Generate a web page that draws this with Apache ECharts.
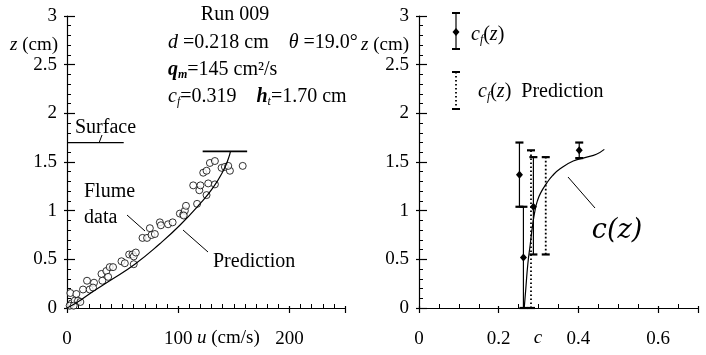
<!DOCTYPE html>
<html><head><meta charset="utf-8">
<script src="https://cdn.jsdelivr.net/npm/echarts@6/dist/echarts.min.js"></script>
<style>html,body{margin:0;padding:0;background:#fff}#c{width:706px;height:355px}</style>
</head><body><div id="c"></div>
<script>
// ---- Left panel: velocity profile ----
const flumeU = [3,8.4,4.2,6.9,9.9,12,2.4,6,14.4,18,20.4,24.3,23.4,31,31.8,35.4,37,38.4,41.4,49,52,55.9,58.9,60,61.9,60,67.9,72,74.5,76,79,83.5,84.4,90.9,95,101.5,104.5,106,107,105,113.5,117,119,120,125.5,127,133,122.5,125.5,128.5,133,139,142,146.5,145,158];
const flumeZ = [0.154,0.144,0.048,0.075,0.075,0.062,0.024,0.024,0.19,0.28,0.19,0.26,0.21,0.35,0.28,0.38,0.32,0.42,0.42,0.48,0.46,0.55,0.55,0.53,0.57,0.45,0.72,0.72,0.82,0.75,0.76,0.88,0.85,0.86,0.88,0.97,0.96,1.0,1.05,0.95,1.26,1.07,1.21,1.26,1.16,1.28,1.27,1.39,1.41,1.49,1.51,1.44,1.45,1.41,1.46,1.46];
const predU = [0,11.4,23.4,38.4,61,83.5,101.5,119.5,131.5,140.5,145,147];
const predZ = [0,0.075,0.17,0.28,0.45,0.66,0.85,1.07,1.24,1.41,1.53,1.61];
const surfaceU = [0,51];
const surfaceZ = [1.70,1.70];
const topBarU = [122,162];
const topBarZ = [1.61,1.61];
const uTicks = [0,100,200];
const zTicks = [0,0.5,1,1.5,2,2.5,3];

// ---- Right panel: concentration profile ----
const cfC    = [0.262,0.287,0.252,0.402];
const cfZ    = [0.52,1.04,1.37,1.62];
const cfLow  = [0,0.55,1.04,1.54];
const cfHigh = [1.04,1.55,1.70,1.70];
const cfPredC    = [0.281,0.318];
const cfPredZ    = [0.81,1.05];
const cfPredLow  = [0,0.55];
const cfPredHigh = [1.62,1.55];
const czC = [0.264,0.268,0.273,0.279,0.285,0.291,0.297,0.305,0.32,0.335,0.354,0.387,0.421,0.445,0.465];
const czZ = [0,0.2,0.45,0.65,0.85,1.0,1.1,1.18,1.28,1.36,1.43,1.51,1.55,1.58,1.63];
const cTicks = [0,0.2,0.4,0.6];

const FONT = 'Liberation Serif';
const FS = 19;   // tick labels
const AS = 20;   // annotations
const zip = (a,b)=>a.map((v,i)=>[v,b[i]]);

const chart = echarts.init(document.getElementById('c'), null, {renderer:'canvas'});

function mainAxis(extra){
  return Object.assign({
    type:'value', splitLine:{show:false},
    axisLine:{show:true, onZero:false, lineStyle:{color:'#000', width:1.2}},
    axisLabel:{color:'#000', fontFamily:FONT, fontSize:FS},
    minorTick:{show:true, length:4, lineStyle:{color:'#000', width:1}},
    minorSplitLine:{show:false}
  }, extra);
}
function ghostAxis(extra){
  return Object.assign({
    type:'value', splitLine:{show:false},
    axisLine:{show:false, onZero:false}, axisLabel:{show:false},
    minorTick:{show:false}
  }, extra);
}
const tickSt = {color:'#000', width:1.2};

function errRender(dashed, marker){
  return function(params, api){
    const c=api.value(0), z=api.value(1), lo=api.value(2), hi=api.value(3);
    const pLo=api.coord([c,lo]), pHi=api.coord([c,hi]), pM=api.coord([c,z]);
    const st={stroke:'#000', lineWidth: dashed?1.8:1.2, lineDash: dashed?[1.6,2.4]:null};
    const cap={stroke:'#000', lineWidth:2.2};
    const ch=[
      {type:'line', shape:{x1:pLo[0],y1:pLo[1],x2:pHi[0],y2:pHi[1]}, style:st},
      {type:'line', shape:{x1:pLo[0]-4,y1:pLo[1],x2:pLo[0]+4,y2:pLo[1]}, style:cap},
      {type:'line', shape:{x1:pHi[0]-4,y1:pHi[1],x2:pHi[0]+4,y2:pHi[1]}, style:cap}
    ];
    if(marker){
      const x=pM[0], y=pM[1];
      ch.push({type:'polygon', shape:{points:[[x,y-4],[x+3.5,y],[x,y+4],[x-3.5,y]]}, style:{fill:'#000'}});
    }
    return {type:'group', children:ch};
  };
}

// text runs with real subscripts: items [text, flags] flags: i=italic b=bold s=subscript
const mctx = document.createElement('canvas').getContext('2d');
function fontOf(f, size){ return (f.includes('i')?'italic ':'')+(f.includes('b')?'bold ':'')+size+'px "'+FONT+'"'; }
function runs(x, y, items, align, size){
  size = size || AS;
  const parts = items.map(it=>{
    const t = typeof it==='string'?it:it[0];
    const f = typeof it==='string'?'':(it[1]||'');
    const s = f.includes('s') ? Math.round(size*0.62) : size;
    mctx.font = fontOf(f, s);
    return {t, f, s, w: mctx.measureText(t).width};
  });
  const total = parts.reduce((a,p)=>a+p.w,0);
  let cx = align==='right' ? x-total : align==='center' ? x-total/2 : x;
  const out=[];
  parts.forEach(p=>{
    out.push({type:'text', x:cx, y: p.f.includes('s') ? y+5 : y,
      style:{text:p.t, fontFamily:FONT, fontSize:p.s, fontStyle:p.f.includes('i')?'italic':'normal',
        fontWeight:p.f.includes('b')?'bold':'normal', fill:'#000', align:'left', verticalAlign:'middle'}});
    cx += p.w;
  });
  return out;
}
function seg(x1,y1,x2,y2,w,dash){
  return {type:'line', shape:{x1,y1,x2,y2}, style:{stroke:'#000', lineWidth:w||1, lineDash:dash||null}};
}

const option = {
  animation:false,
  backgroundColor:'#fff',
  grid:[
    {left:67, top:16, width:278, height:292},
    {left:419, top:16, width:279, height:292}
  ],
  xAxis:[
    mainAxis({gridIndex:0, min:0, max:250, interval:100, position:'bottom',
      axisTick:{show:true, inside:true, length:2, lineStyle:tickSt},
      minorTick:{show:true, splitNumber:10, length:4, lineStyle:{color:'#000', width:1}},
      axisLabel:{color:'#000', fontFamily:FONT, fontSize:FS, margin:22, showMaxLabel:false,
        formatter:v=>uTicks.includes(v)?String(v):''}}),
    ghostAxis({gridIndex:0, min:0, max:250, interval:100, position:'bottom',
      axisTick:{show:true, inside:false, length:5, lineStyle:tickSt}}),
    mainAxis({gridIndex:1, min:0, max:0.7, interval:0.2, position:'bottom',
      axisTick:{show:true, inside:true, length:2, lineStyle:tickSt},
      minorTick:{show:true, splitNumber:4, length:4, lineStyle:{color:'#000', width:1}},
      axisLabel:{color:'#000', fontFamily:FONT, fontSize:FS, margin:22, showMaxLabel:false,
        formatter:v=>{const t=cTicks.find(k=>Math.abs(k-v)<1e-6); return t===undefined?'':String(t);}}}),
    ghostAxis({gridIndex:1, min:0, max:0.7, interval:0.2, position:'bottom',
      axisTick:{show:true, inside:false, length:5, lineStyle:tickSt}})
  ],
  yAxis:[
    mainAxis({gridIndex:0, min:0, max:3, interval:0.5, position:'left',
      axisTick:{show:true, inside:true, length:8, lineStyle:tickSt},
      minorTick:{show:true, splitNumber:5, length:4, lineStyle:{color:'#000', width:1}},
      axisLabel:{color:'#000', fontFamily:FONT, fontSize:FS, margin:10}}),
    ghostAxis({gridIndex:0, min:0, max:3, interval:0.5, position:'left',
      axisTick:{show:true, inside:false, length:3, lineStyle:tickSt}}),
    mainAxis({gridIndex:1, min:0, max:3, interval:0.5, position:'left',
      axisTick:{show:true, inside:true, length:8, lineStyle:tickSt},
      minorTick:{show:true, splitNumber:5, length:4, lineStyle:{color:'#000', width:1}},
      axisLabel:{color:'#000', fontFamily:FONT, fontSize:FS, margin:10}}),
    ghostAxis({gridIndex:1, min:0, max:3, interval:0.5, position:'left',
      axisTick:{show:true, inside:false, length:3, lineStyle:tickSt}})
  ],
  series:[
    {type:'scatter', xAxisIndex:0, yAxisIndex:0, data:zip(flumeU,flumeZ), symbol:'circle', symbolSize:7,
      itemStyle:{color:'#fff', borderColor:'#000', borderWidth:1}},
    {type:'line', xAxisIndex:0, yAxisIndex:0, data:zip(predU,predZ), smooth:true, showSymbol:false,
      lineStyle:{color:'#000', width:1.2}},
    {type:'line', xAxisIndex:0, yAxisIndex:0, data:zip(surfaceU,surfaceZ), showSymbol:false,
      lineStyle:{color:'#000', width:1.2}},
    {type:'line', xAxisIndex:0, yAxisIndex:0, data:zip(topBarU,topBarZ), showSymbol:false,
      lineStyle:{color:'#000', width:1.8}},
    {type:'line', xAxisIndex:2, yAxisIndex:2, data:zip(czC,czZ), smooth:true, showSymbol:false,
      lineStyle:{color:'#000', width:1.2}},
    {type:'custom', xAxisIndex:2, yAxisIndex:2, renderItem:errRender(true,false),
      data:cfPredC.map((c,i)=>[c,cfPredZ[i],cfPredLow[i],cfPredHigh[i]]), z:3},
    {type:'custom', xAxisIndex:2, yAxisIndex:2, renderItem:errRender(false,true),
      data:cfC.map((c,i)=>[c,cfZ[i],cfLow[i],cfHigh[i]]), z:4}
  ],
  graphic:[].concat(
    runs(235,15,['Run 009'],'center'),
    runs(168,43,[['d','i'],' =0.218 cm    ',['θ','i'],' =19.0°']),
    runs(168,70,[['q','bi'],['m','bis'],'=145 cm²/s']),
    runs(168,97,[['c','i'],['f','is'],'=0.319    ',['h','bi'],['t','is'],'=1.70 cm']),
    runs(58,45,[['z','i'],' (cm)'],'right',FS),
    runs(75,128,['Surface']),
    runs(84,192,['Flume']),
    runs(84,218,['data']),
    runs(213,262,['Prediction']),
    runs(197,338,[['u','i'],' (cm/s)'],'left',FS),
    runs(409,45,[['z','i'],' (cm)'],'right',FS),
    runs(538,338,[['c','i']],'center',FS),
    runs(471,35,[['c','i'],['f','is'],'(',['z','i'],')']),
    runs(478,92,[['c','i'],['f','is'],'(',['z','i'],')  Prediction']),
    [
      seg(102,135,99,143,1),
      seg(127,215,145,231,1),
      seg(183,230,208,252,1),
      seg(568,177,595,208,1),
      {type:'text', x:617, y:231, style:{text:'c(z)', fontFamily:'DejaVu Serif', fontStyle:'italic', fontSize:27, fill:'#000', align:'center', verticalAlign:'middle'}},
      seg(456,13,456,49,1.2), seg(452,13,460,13,2), seg(452,49,460,49,2),
      {type:'polygon', shape:{points:[[456,28],[459.5,32],[456,36],[452.5,32]]}, style:{fill:'#000'}},
      seg(456,72,456,109,1.8,[1.6,2.4]), seg(452,72,460,72,2), seg(452,109,460,109,2)
    ]
  )
};
chart.setOption(option);
</script></body></html>
